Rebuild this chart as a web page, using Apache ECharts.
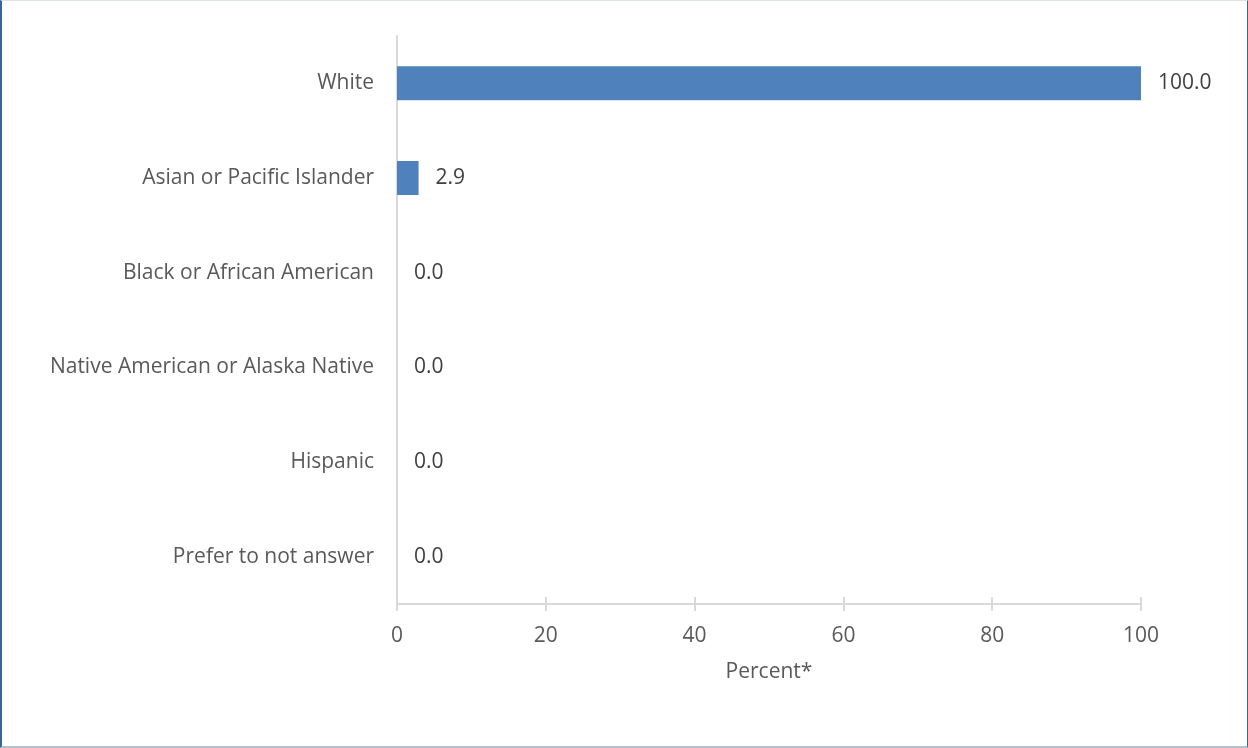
<!DOCTYPE html>
<html><head><meta charset="utf-8">
<script src="https://cdn.jsdelivr.net/npm/echarts@6/dist/echarts.min.js"></script>
<style>
html,body{margin:0;padding:0;background:#fff;}
#frame{position:absolute;left:0;top:0;width:1245px;height:745px;border-left:2px solid #3a6596;border-right:1px solid #3a6596;border-top:1px solid #dce3ee;border-bottom:2px solid #b4c0cf;}
#c{position:absolute;left:0;top:0;width:1248px;height:748px;}
</style></head>
<body><div id="frame"></div><div id="c"></div>
<script>
const categories = ["White","Asian or Pacific Islander","Black or African American","Native American or Alaska Native","Hispanic","Prefer to not answer"];
const values = [100.0, 2.9, 0.0, 0.0, 0.0, 0.0];
const xTicks = [0,20,40,60,80,100];
const xTitle = "Percent*";

const font = "'Open Sans', sans-serif";
const chart = echarts.init(document.getElementById('c'), null, {renderer:'canvas'});
chart.setOption({
  animation:false,
  grid:{left:397, right:107, top:36, bottom:144, containLabel:false},
  xAxis:[{
    type:'value', min:0, max:100, interval:20,
    name:xTitle, nameLocation:'middle', nameGap:58,
    nameTextStyle:{color:'#595959', fontSize:21, fontFamily:font},
    axisLine:{show:true, lineStyle:{color:'#d9d9d9', width:2}},
    axisTick:{show:true, length:7, lineStyle:{color:'#d9d9d9', width:2}},
    axisLabel:{color:'#595959', fontSize:21, fontFamily:font, margin:22},
    splitLine:{show:false}
  },{
    type:'value', min:0, max:100, interval:20, position:'bottom',
    axisLine:{show:false},
    axisTick:{show:true, inside:true, length:7, lineStyle:{color:'#d9d9d9', width:2}},
    axisLabel:{show:false}, splitLine:{show:false}
  }],
  yAxis:{
    type:'category', data:categories, inverse:true,
    axisLine:{show:true, lineStyle:{color:'#d9d9d9', width:2}},
    axisTick:{show:false},
    axisLabel:{color:'#595959', fontSize:21, fontFamily:font, margin:23}
  },
  series:[{
    type:'bar', data:values, barWidth:34, xAxisIndex:0,
    itemStyle:{color:'#4f81bd'},
    label:{show:true, position:'right', distance:17, color:'#404040', fontSize:21, fontFamily:font,
      formatter:p=>p.value.toFixed(1)}
  }]
});
</script></body></html>
